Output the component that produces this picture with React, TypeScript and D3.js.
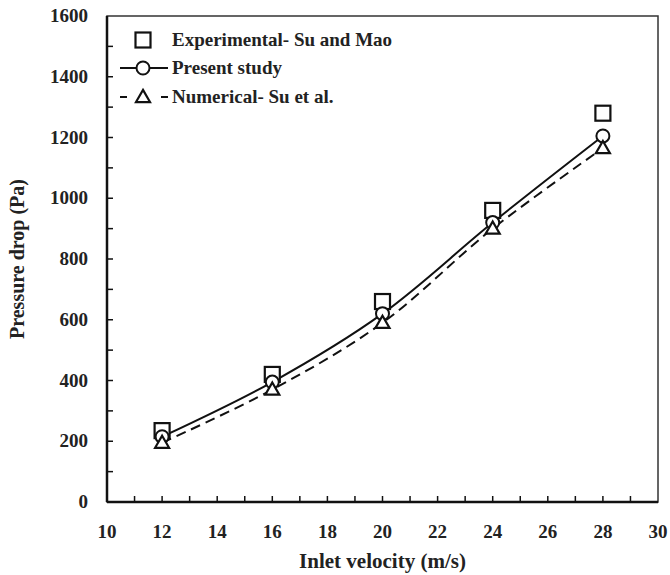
import { useEffect, useRef } from 'react';
import * as d3 from 'd3';

const velocity = [12, 16, 20, 24, 28];
const experimental = [235, 420, 660, 960, 1280];
const presentStudy = [215, 395, 620, 920, 1205];
const numerical = [195, 370, 590, 900, 1165];
const xTicks = [10, 12, 14, 16, 18, 20, 22, 24, 26, 28, 30];
const yTicks = [0, 200, 400, 600, 800, 1000, 1200, 1400, 1600];

const FONT = '"Liberation Serif", "Times New Roman", serif';

export default function App() {
  const svgRef = useRef<SVGSVGElement>(null);

  useEffect(() => {
    document.body.style.margin = '0';
    const svg = d3.select(svgRef.current);
    svg.selectAll('*').remove();

    const left = 107, right = 658, top = 16, bottom = 502;
    const x = d3.scaleLinear().domain([10, 30]).range([left, right]);
    const y = d3.scaleLinear().domain([0, 1600]).range([bottom, top]);

    // frame
    svg.append('rect')
      .attr('x', left).attr('y', top)
      .attr('width', right - left).attr('height', bottom - top)
      .attr('fill', 'none').attr('stroke', '#333').attr('stroke-width', 1.5);
    svg.append('line').attr('x1', left).attr('x2', left).attr('y1', top).attr('y2', bottom)
      .attr('stroke', '#111').attr('stroke-width', 2.5);
    svg.append('line').attr('x1', left).attr('x2', right).attr('y1', bottom).attr('y2', bottom)
      .attr('stroke', '#111').attr('stroke-width', 2.5);

    // inward ticks
    const g = svg.append('g').attr('stroke', '#111').attr('stroke-width', 1.5);
    d3.range(11, 30, 1).forEach(v => {
      g.append('line').attr('x1', x(v)).attr('x2', x(v)).attr('y1', bottom).attr('y2', bottom - 6);
    });
    d3.range(100, 1600, 100).forEach(v => {
      g.append('line').attr('x1', left).attr('x2', left + 6).attr('y1', y(v)).attr('y2', y(v));
    });

    // tick labels
    svg.append('g').selectAll('text').data(xTicks).enter().append('text')
      .attr('x', d => x(d)).attr('y', 538)
      .attr('text-anchor', 'middle')
      .style('font-family', FONT).style('font-weight', 'bold').style('font-size', '19px')
      .attr('fill', '#222')
      .text(d => d);
    svg.append('g').selectAll('text').data(yTicks).enter().append('text')
      .attr('x', 88).attr('y', d => y(d) + 6)
      .attr('text-anchor', 'end')
      .style('font-family', FONT).style('font-weight', 'bold').style('font-size', '19px')
      .attr('fill', '#222')
      .text(d => d);

    // axis titles
    svg.append('text')
      .attr('x', (left + right) / 2).attr('y', 568)
      .attr('text-anchor', 'middle')
      .style('font-family', FONT).style('font-weight', 'bold').style('font-size', '21px')
      .attr('fill', '#222')
      .text('Inlet velocity (m/s)');
    svg.append('text')
      .attr('transform', `translate(24,${(top + bottom) / 2}) rotate(-90)`)
      .attr('text-anchor', 'middle')
      .style('font-family', FONT).style('font-weight', 'bold').style('font-size', '20px')
      .attr('fill', '#222')
      .text('Pressure drop (Pa)');

    // curves
    const line = d3.line<number>()
      .x((_, i) => x(velocity[i]))
      .y(d => y(d))
      .curve(d3.curveCatmullRom.alpha(0.5));
    svg.append('path').attr('d', line(numerical))
      .attr('fill', 'none').attr('stroke', '#111').attr('stroke-width', 2)
      .attr('stroke-dasharray', '10,6');
    svg.append('path').attr('d', line(presentStudy))
      .attr('fill', 'none').attr('stroke', '#111').attr('stroke-width', 2);

    const drawSquare = (cx: number, cy: number) =>
      svg.append('rect').attr('x', cx - 7.5).attr('y', cy - 7.5).attr('width', 15).attr('height', 15)
        .attr('fill', 'white').attr('stroke', '#111').attr('stroke-width', 2.2);
    const drawCircle = (cx: number, cy: number) =>
      svg.append('circle').attr('cx', cx).attr('cy', cy).attr('r', 6.5)
        .attr('fill', 'white').attr('stroke', '#111').attr('stroke-width', 2);
    const tri = d3.symbol().type(d3.symbolTriangle).size(85);
    const drawTriangle = (cx: number, cy: number) =>
      svg.append('path').attr('d', tri()).attr('transform', `translate(${cx},${cy + 1})`)
        .attr('fill', 'white').attr('stroke', '#111').attr('stroke-width', 2.2);

    velocity.forEach((v, i) => drawSquare(x(v), y(experimental[i])));
    velocity.forEach((v, i) => drawCircle(x(v), y(presentStudy[i])));
    velocity.forEach((v, i) => drawTriangle(x(v), y(numerical[i])));

    // legend
    const lx = 143;
    const rows = [40, 68, 97];
    const labels = ['Experimental- Su and Mao', 'Present study', 'Numerical- Su et al.'];
    svg.append('line').attr('x1', 120).attr('x2', 168).attr('y1', rows[1]).attr('y2', rows[1])
      .attr('stroke', '#111').attr('stroke-width', 2);
    svg.append('line').attr('x1', 120).attr('x2', 168).attr('y1', rows[2]).attr('y2', rows[2])
      .attr('stroke', '#111').attr('stroke-width', 2).attr('stroke-dasharray', '7,34');
    drawSquare(lx, rows[0]);
    drawCircle(lx, rows[1]);
    drawTriangle(lx, rows[2]);
    labels.forEach((t, i) => {
      svg.append('text').attr('x', 172).attr('y', rows[i] + 6)
        .style('font-family', FONT).style('font-weight', 'bold').style('font-size', '19px')
        .attr('fill', '#222')
        .text(t);
    });
  }, []);

  return <svg ref={svgRef} width={670} height={575} style={{ display: 'block', background: 'white' }} />;
}
